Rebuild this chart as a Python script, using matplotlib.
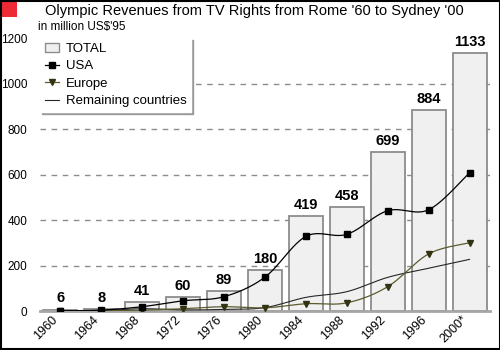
import numpy as np
import matplotlib
matplotlib.use("Agg")
import matplotlib.pyplot as plt
from matplotlib.patches import Rectangle, Patch
from matplotlib.lines import Line2D

plt.rcParams['font.family'] = ['Liberation Sans', 'DejaVu Sans']

years = ['1960', '1964', '1968', '1972', '1976', '1980', '1984', '1988', '1992', '1996', '2000*']
total = [6, 8, 41, 60, 89, 180, 419, 458, 699, 884, 1133]
usa = [1, 4, 19, 45, 63, 149, 328, 337, 441, 445, 608]
europe = [0, 1, 4, 10, 19, 14, 32, 36, 107, 251, 300]
remaining = [1, 2, 10, 5, 7, 15, 60, 85, 148, 188, 227]
yticks = [0, 200, 400, 600, 800, 1000, 1200]


def smooth(xs, ys, n=24):
    p = np.column_stack([xs, ys]).astype(float)
    p = np.vstack([p[0], p, p[-1]])
    out = []
    t = np.linspace(0, 1, n)[:, None]
    for i in range(1, len(p) - 2):
        p0, p1, p2, p3 = p[i - 1], p[i], p[i + 1], p[i + 2]
        b1 = p1 + (p2 - p0) / 6.0
        b2 = p2 - (p3 - p1) / 6.0
        seg = ((1 - t) ** 3) * p1 + 3 * ((1 - t) ** 2) * t * b1 + 3 * (1 - t) * t ** 2 * b2 + t ** 3 * p2
        out.append(seg if i == 1 else seg[1:])
    s = np.vstack(out)
    return s[:, 0], s[:, 1]


fig = plt.figure(figsize=(5, 3.5), dpi=100)
ax = fig.add_axes([0.08, 0.1114, 0.90, 0.78])
x = np.arange(len(years))

ax.set_xlim(-0.5, len(years) - 0.5)
ax.set_ylim(0, 1200)
ax.set_yticks(yticks)
ax.set_xticks(x)
ax.set_xticklabels(years, rotation=45, ha='right', fontsize=9)
ax.tick_params(axis='y', labelsize=8.5, length=0, pad=9)
ax.tick_params(axis='x', length=0, pad=2)
for s in ['left', 'right', 'top']:
    ax.spines[s].set_visible(False)
ax.spines['bottom'].set_color('#a6a6a6')
ax.spines['bottom'].set_linewidth(2)

ax.yaxis.grid(True, linestyle=(0, (4, 4)), color='#8c8c8c', linewidth=1)
ax.set_axisbelow(True)
gl = ax.yaxis.get_gridlines()
gl[0].set_visible(False)
gl[-1].set_visible(False)

ax.bar(x, total, width=0.83, color='#f0f0f0', edgecolor='#8c8c8c', linewidth=1.3, zorder=2)
for xi, v in zip(x, total):
    ax.annotate(str(v), (xi, v), xytext=(0, 3), textcoords='offset points',
                ha='center', va='bottom', fontsize=10.5, fontweight='bold', zorder=6)

sx, sy = smooth(x, remaining)
ax.plot(sx, sy, color='#262626', linewidth=0.8, zorder=3)
sx, sy = smooth(x, europe)
ax.plot(sx, sy, color='#5c5c2e', linewidth=0.9, zorder=4)
ax.plot(x, europe, linestyle='none', marker='v', markersize=4.5, color='#333311', zorder=4)
sx, sy = smooth(x, usa)
ax.plot(sx, sy, color='black', linewidth=0.9, zorder=5)
ax.plot(x, usa, linestyle='none', marker='s', markersize=4.8, color='black', zorder=5)

handles = [
    Patch(facecolor='#f0f0f0', edgecolor='#8c8c8c', linewidth=1),
    Line2D([], [], color='black', linewidth=0.9, marker='s', markersize=4),
    Line2D([], [], color='#5c5c2e', linewidth=0.9, marker='v', markersize=4, markerfacecolor='#333311', markeredgecolor='#333311'),
    Line2D([], [], color='#262626', linewidth=0.8),
]
leg = ax.legend(handles, ['TOTAL', 'USA', 'Europe', 'Remaining countries'],
                loc='upper left', bbox_to_anchor=(0.0, 1.0), borderaxespad=0,
                fontsize=9.5, handlelength=1.1, handletextpad=0.5, labelspacing=0.4,
                borderpad=0.35, fancybox=False, framealpha=1,
                edgecolor='white', shadow={'ox': 1.2, 'oy': -1.2, 'color': '#9a9a9a', 'alpha': 1})
leg.set_zorder(10)

fig.text(0.09, 0.97, "Olympic Revenues from TV Rights from Rome '60 to Sydney '00",
         fontsize=10.5, ha='left', va='center')
fig.text(0.076, 0.922, "in million US$'95", fontsize=8.5, ha='left', va='center')

fig.patches.append(Rectangle((0, 1 - 17 / 350), 17 / 500, 17 / 350, transform=fig.transFigure,
                             facecolor='#ee2a35', edgecolor='none', zorder=0))
fig.patches.append(Rectangle((0.001, 0.0015), 0.998, 0.997, transform=fig.transFigure,
                             facecolor='none', edgecolor='black', linewidth=1.5, zorder=20))

fig.savefig('out.png', dpi=100)
